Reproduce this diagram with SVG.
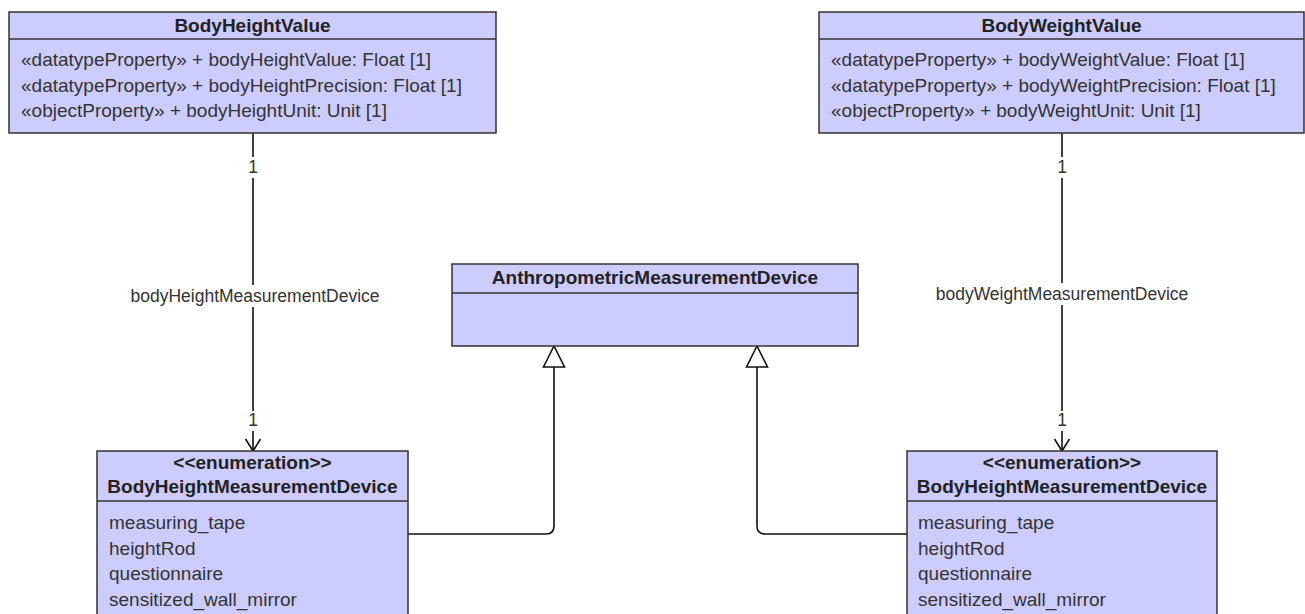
<svg xmlns="http://www.w3.org/2000/svg" width="1305" height="614" viewBox="0 0 1305 614">
  <style>
    .box { fill: #ccccff; stroke: #333333; stroke-width: 1.5; }
    .sep { stroke: #333333; stroke-width: 1.5; }
    .title { font-family: "Liberation Sans", Arial, sans-serif; font-size: 19px; font-weight: bold; fill: #222222; text-anchor: middle; }
    .attr { font-family: "Liberation Sans", Arial, sans-serif; font-size: 19px; fill: #333333; }
    .lbl { font-family: "Liberation Sans", Arial, sans-serif; font-size: 17.5px; fill: #333333; text-anchor: middle; }
    .edge { fill: none; stroke: #111111; stroke-width: 1.6; }
    .bg { fill: #ffffff; }
    .gen { fill: #ffffff; stroke: #111111; stroke-width: 1.6; stroke-linejoin: miter; }
  </style>

  <rect x="0" y="0" width="1305" height="614" fill="#ffffff"/>

  <!-- connectors -->
  <g id="connectors">
    <!-- association: BodyHeightValue -> BodyHeightMeasurementDevice -->
    <line class="edge" x1="253" y1="133" x2="253" y2="450"/>
    <polyline class="edge" points="245.5,439 253,451 260.5,439"/>
    <rect class="bg" x="246" y="157" width="14" height="21"/>
    <text class="lbl" x="253" y="173">1</text>
    <rect class="bg" x="128" y="285" width="254" height="22"/>
    <text class="lbl" x="255" y="302">bodyHeightMeasurementDevice</text>
    <rect class="bg" x="246" y="411" width="14" height="20"/>
    <text class="lbl" x="253" y="426">1</text>

    <!-- association: BodyWeightValue -> BodyHeightMeasurementDevice -->
    <line class="edge" x1="1062" y1="133" x2="1062" y2="450"/>
    <polyline class="edge" points="1054.5,439 1062,451 1069.5,439"/>
    <rect class="bg" x="1055" y="157" width="14" height="21"/>
    <text class="lbl" x="1062" y="173">1</text>
    <rect class="bg" x="933" y="283" width="258" height="22"/>
    <text class="lbl" x="1062" y="300">bodyWeightMeasurementDevice</text>
    <rect class="bg" x="1055" y="411" width="14" height="20"/>
    <text class="lbl" x="1062" y="426">1</text>

    <!-- generalizations to AnthropometricMeasurementDevice -->
    <path class="edge" d="M408 534 H546 Q554 534 554 526 V367"/>
    <polygon class="gen" points="554,346 543.5,367 564.5,367"/>
    <path class="edge" d="M907 534 H765 Q757 534 757 526 V367"/>
    <polygon class="gen" points="757,346 746.5,367 767.5,367"/>
  </g>

  <!-- BodyHeightValue -->
  <g id="BodyHeightValue">
    <rect class="box" x="9" y="12" width="487" height="121"/>
    <line class="sep" x1="9" y1="39" x2="496" y2="39"/>
    <text class="title" x="252.5" y="32">BodyHeightValue</text>
    <text class="attr" x="21" y="66">«datatypeProperty» + bodyHeightValue: Float [1]</text>
    <text class="attr" x="21" y="91.5">«datatypeProperty» + bodyHeightPrecision: Float [1]</text>
    <text class="attr" x="21" y="117">«objectProperty» + bodyHeightUnit: Unit [1]</text>
  </g>

  <!-- BodyWeightValue -->
  <g id="BodyWeightValue">
    <rect class="box" x="819" y="12" width="485" height="121"/>
    <line class="sep" x1="819" y1="39" x2="1304" y2="39"/>
    <text class="title" x="1061.5" y="32">BodyWeightValue</text>
    <text class="attr" x="831" y="66">«datatypeProperty» + bodyWeightValue: Float [1]</text>
    <text class="attr" x="831" y="91.5">«datatypeProperty» + bodyWeightPrecision: Float [1]</text>
    <text class="attr" x="831" y="117">«objectProperty» + bodyWeightUnit: Unit [1]</text>
  </g>

  <!-- AnthropometricMeasurementDevice -->
  <g id="AnthropometricMeasurementDevice">
    <rect class="box" x="452" y="264" width="406" height="82"/>
    <line class="sep" x1="452" y1="293" x2="858" y2="293"/>
    <text class="title" x="655" y="284">AnthropometricMeasurementDevice</text>
  </g>

  <!-- BodyHeightMeasurementDevice (left) -->
  <g id="BodyHeightMeasurementDevice_left">
    <rect class="box" x="97" y="451" width="311" height="175"/>
    <line class="sep" x1="97" y1="501" x2="408" y2="501"/>
    <text class="title" x="252.5" y="469">&lt;&lt;enumeration&gt;&gt;</text>
    <text class="title" x="252.5" y="493">BodyHeightMeasurementDevice</text>
    <text class="attr" x="109" y="529">measuring_tape</text>
    <text class="attr" x="109" y="554.5">heightRod</text>
    <text class="attr" x="109" y="580">questionnaire</text>
    <text class="attr" x="109" y="605.5">sensitized_wall_mirror</text>
  </g>

  <!-- BodyHeightMeasurementDevice (right) -->
  <g id="BodyHeightMeasurementDevice_right">
    <rect class="box" x="907" y="451" width="310" height="175"/>
    <line class="sep" x1="907" y1="501" x2="1217" y2="501"/>
    <text class="title" x="1062" y="469">&lt;&lt;enumeration&gt;&gt;</text>
    <text class="title" x="1062" y="493">BodyHeightMeasurementDevice</text>
    <text class="attr" x="918" y="529">measuring_tape</text>
    <text class="attr" x="918" y="554.5">heightRod</text>
    <text class="attr" x="918" y="580">questionnaire</text>
    <text class="attr" x="918" y="605.5">sensitized_wall_mirror</text>
  </g>
</svg>
